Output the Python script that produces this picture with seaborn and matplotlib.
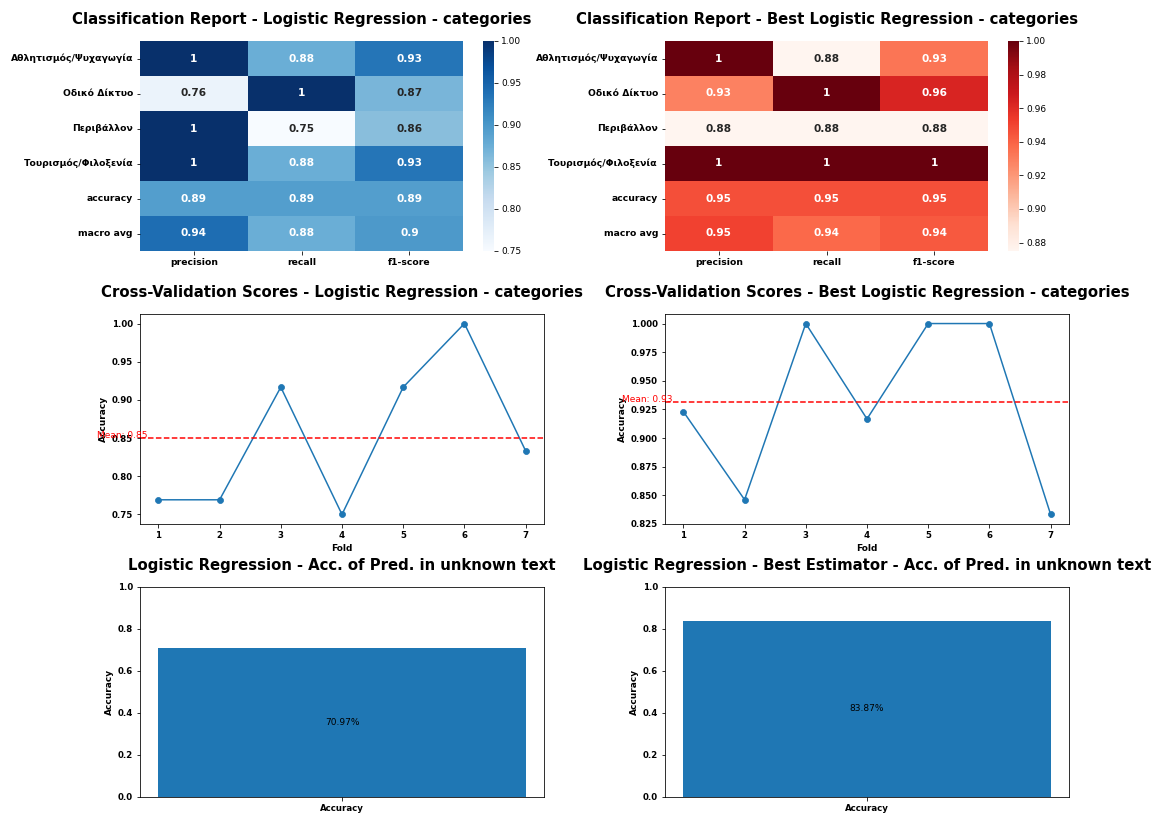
import numpy as np
import pandas as pd
import matplotlib
matplotlib.use("Agg")
import matplotlib.pyplot as plt
import seaborn as sns

# ---- data ----
row_labels = ["Αθλητισμός/Ψυχαγωγία", "Οδικό Δίκτυο", "Περιβάλλον",
              "Τουρισμός/Φιλοξενία", "accuracy", "macro avg"]
metric_labels = ["precision", "recall", "f1-score"]

report_base = [
    [1.0, 0.875, 0.9333],
    [0.7647, 1.0, 0.8667],
    [1.0, 0.75, 0.8571],
    [1.0, 0.875, 0.9333],
    [0.8929, 0.8929, 0.8929],
    [0.9412, 0.875, 0.8976],
]
report_best = [
    [1.0, 0.875, 0.9333],
    [0.9286, 1.0, 0.963],
    [0.875, 0.875, 0.875],
    [1.0, 1.0, 1.0],
    [0.9464, 0.9464, 0.9464],
    [0.9509, 0.9375, 0.9429],
]

folds = [1, 2, 3, 4, 5, 6, 7]
cv_base = [0.7692, 0.7692, 0.9167, 0.75, 0.9167, 1.0, 0.8333]
cv_best = [0.9231, 0.8462, 1.0, 0.9167, 1.0, 1.0, 0.8333]

acc_base = 0.7097
acc_best = 0.8387

# ---- figure ----
W, H, DPI = 1162, 816, 72
fig, axes = plt.subplots(3, 2, figsize=(W / DPI, H / DPI), dpi=DPI)
plt.subplots_adjust(left=140 / W, right=1069 / W, top=1 - 41 / H,
                    bottom=1 - 797 / H, wspace=121 / 404, hspace=63 / 210)

TITLE = dict(fontsize=14.85, fontweight="bold", pad=17)
LABEL = dict(fontsize=9, fontweight="bold")


def bold_ticks(ax, size):
    for lbl in ax.get_xticklabels() + ax.get_yticklabels():
        lbl.set_fontweight("bold")
        lbl.set_fontsize(size)


def report_heatmap(ax, values, cmap, title):
    df = pd.DataFrame(values, index=row_labels, columns=metric_labels)
    sns.heatmap(df, annot=True, cmap=cmap, ax=ax,
                annot_kws={"fontsize": 10.5, "fontweight": "bold"})
    ax.set_title(title, **TITLE)
    ax.tick_params(axis="y", rotation=0)
    bold_ticks(ax, 9.2)
    ax.collections[0].colorbar.ax.tick_params(labelsize=9)


def cv_plot(ax, scores, title):
    sns.lineplot(x=folds, y=scores, marker="o", ax=ax, color="#1f77b4",
                 markeredgecolor="#1f77b4", markersize=6, linewidth=1.5)
    mean = float(np.mean(scores))
    ax.axhline(mean, color="red", linestyle="--", linewidth=1.5)
    ax.text(0, mean, f"Mean: {mean:.2f}", color="red", fontsize=9)
    ax.set_xticks(folds)
    ax.set_title(title, **TITLE)
    ax.set_xlabel("Fold", **LABEL)
    ax.set_ylabel("Accuracy", **LABEL)
    bold_ticks(ax, 8.6)


def acc_bar(ax, value, title):
    sns.barplot(x=["Accuracy"], y=[value], ax=ax, color="#1f77b4",
                saturation=1, width=0.8)
    ax.set_xlim(-0.44, 0.44)
    ax.set_ylim(0, 1)
    ax.text(0, value / 2, f"{value * 100:.2f}%", ha="center", va="center",
            fontsize=9, color="black")
    ax.set_title(title, **TITLE)
    ax.set_ylabel("Accuracy", **LABEL)
    ax.set_xlabel("")
    bold_ticks(ax, 8.6)


report_heatmap(axes[0, 0], report_base, "Blues",
               "Classification Report - Logistic Regression - categories")
report_heatmap(axes[0, 1], report_best, "Reds",
               "Classification Report - Best Logistic Regression - categories")
cv_plot(axes[1, 0], cv_base,
        "Cross-Validation Scores - Logistic Regression - categories")
cv_plot(axes[1, 1], cv_best,
        "Cross-Validation Scores - Best Logistic Regression - categories")
acc_bar(axes[2, 0], acc_base,
        "Logistic Regression - Acc. of Pred. in unknown text")
acc_bar(axes[2, 1], acc_best,
        "Logistic Regression - Best Estimator - Acc. of Pred. in unknown text")

fig.savefig("out.png", dpi=DPI)
